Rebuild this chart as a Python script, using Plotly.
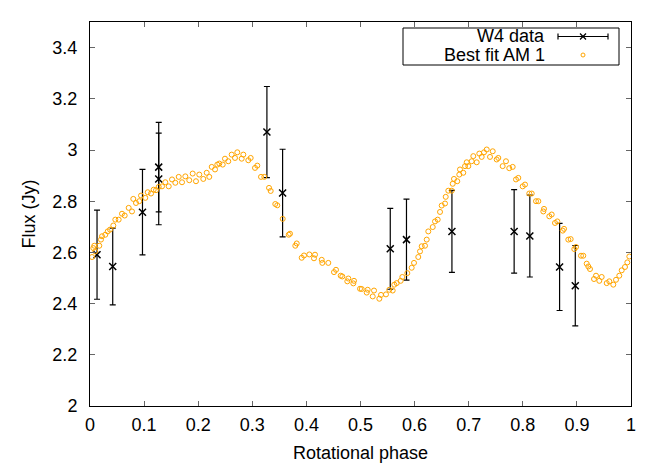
import plotly.graph_objects as go

# W4 observations
w4_phase = [0.013, 0.042, 0.097, 0.127, 0.127, 0.327, 0.356, 0.555, 0.585,
            0.669, 0.784, 0.813, 0.868, 0.897]
w4_flux = [2.591, 2.545, 2.757, 2.933, 2.887, 3.070, 2.832, 2.614, 2.650,
           2.682, 2.682, 2.664, 2.543, 2.470]
w4_err = [0.174, 0.150, 0.167, 0.175, 0.179, 0.178, 0.171, 0.158, 0.158,
          0.160, 0.163, 0.160, 0.170, 0.157]

# best-fit model (AM 1), sampled in phase
fit_phase = [
    0.0037, 0.0061, 0.0079, 0.0098, 0.0172, 0.0203, 0.0222, 0.0283, 0.0327, 0.0370,
    0.0431, 0.0468, 0.0530, 0.0591, 0.0641, 0.0715, 0.0776, 0.0800, 0.0850, 0.0911,
    0.0943, 0.1022, 0.1067, 0.1128, 0.1177, 0.1220, 0.1270, 0.1331, 0.1392, 0.1455,
    0.1516, 0.1577, 0.1640, 0.1701, 0.1762, 0.1835, 0.1898, 0.1959, 0.2020, 0.2094,
    0.2157, 0.2205, 0.2250, 0.2311, 0.2353, 0.2390, 0.2453, 0.2495, 0.2556, 0.2619,
    0.2680, 0.2723, 0.2804, 0.2834, 0.2926, 0.2970, 0.3050, 0.3092, 0.3161, 0.3222,
    0.3309, 0.3340, 0.3425, 0.3462, 0.3562, 0.3673, 0.3697, 0.3795, 0.3821, 0.3913,
    0.3956, 0.4054, 0.4159, 0.4140, 0.4283, 0.4294, 0.4405, 0.4510, 0.4547, 0.4634,
    0.4664, 0.4756, 0.4775, 0.4867, 0.4880, 0.4991, 0.5022, 0.5115, 0.5133, 0.5226,
    0.5250, 0.5348, 0.5379, 0.5471, 0.5532, 0.5595, 0.5625, 0.5669, 0.5743, 0.5773,
    0.5865, 0.5946, 0.5989, 0.6068, 0.6100, 0.6131, 0.6192, 0.6224, 0.6253, 0.6335,
    0.6377, 0.6427, 0.6470, 0.6501, 0.6562, 0.6575, 0.6623, 0.6686, 0.6704, 0.6728,
    0.6789, 0.6826, 0.6839, 0.6900, 0.6932, 0.6963, 0.6993, 0.7055, 0.7085, 0.7148,
    0.7196, 0.7240, 0.7283, 0.7333, 0.7394, 0.7444, 0.7517, 0.7547, 0.7628, 0.7689,
    0.7750, 0.7813, 0.7874, 0.7917, 0.7998, 0.8041, 0.8120, 0.8165, 0.8244, 0.8287,
    0.8379, 0.8392, 0.8490, 0.8534, 0.8595, 0.8638, 0.8738, 0.8762, 0.8841, 0.8885,
    0.8952, 0.8983, 0.9076, 0.9118, 0.9181, 0.9211, 0.9242, 0.9316, 0.9353, 0.9414,
    0.9458, 0.9551, 0.9599, 0.9673, 0.9723, 0.9784, 0.9828, 0.9889, 0.9932, 0.9969,
]
fit_flux = [
    2.582, 2.617, 2.626, 2.604, 2.626, 2.650, 2.663, 2.669, 2.682, 2.689,
    2.705, 2.728, 2.728, 2.751, 2.744, 2.774, 2.760, 2.809, 2.793, 2.800,
    2.822, 2.813, 2.835, 2.830, 2.845, 2.843, 2.856, 2.858, 2.874, 2.858,
    2.885, 2.872, 2.895, 2.874, 2.897, 2.882, 2.908, 2.878, 2.904, 2.887,
    2.911, 2.895, 2.934, 2.924, 2.943, 2.947, 2.943, 2.966, 2.956, 2.982,
    2.969, 2.991, 2.966, 2.982, 2.960, 2.969, 2.930, 2.939, 2.895, 2.895,
    2.852, 2.840, 2.789, 2.784, 2.731, 2.669, 2.673, 2.626, 2.635, 2.579,
    2.588, 2.592, 2.591, 2.577, 2.571, 2.559, 2.559, 2.523, 2.532, 2.509,
    2.506, 2.487, 2.498, 2.479, 2.489, 2.458, 2.457, 2.443, 2.454, 2.428,
    2.451, 2.419, 2.434, 2.436, 2.454, 2.451, 2.474, 2.480, 2.489, 2.504,
    2.519, 2.540, 2.559, 2.582, 2.604, 2.624, 2.626, 2.650, 2.682, 2.699,
    2.721, 2.728, 2.758, 2.783, 2.791, 2.817, 2.841, 2.841, 2.868, 2.887,
    2.878, 2.904, 2.924, 2.911, 2.937, 2.952, 2.937, 2.956, 2.976, 2.952,
    2.986, 2.973, 2.991, 3.002, 2.973, 2.995, 2.963, 2.969, 2.937, 2.956,
    2.929, 2.934, 2.885, 2.891, 2.858, 2.865, 2.830, 2.830, 2.800, 2.800,
    2.760, 2.770, 2.741, 2.748, 2.715, 2.721, 2.685, 2.692, 2.650, 2.652,
    2.613, 2.621, 2.587, 2.587, 2.556, 2.545, 2.535, 2.496, 2.509, 2.489,
    2.504, 2.480, 2.487, 2.474, 2.493, 2.509, 2.530, 2.543, 2.561, 2.584,
]

FONT = "Liberation Sans, Arial, sans-serif"
FSIZE = 18
ORANGE = "#ffa500"

fig = go.Figure()
fig.add_trace(go.Scatter(
    x=w4_phase, y=w4_flux, mode="markers", name="W4 data",
    marker=dict(symbol="x-thin", size=7, color="black",
                line=dict(width=1.5, color="black")),
    error_y=dict(type="data", array=w4_err, visible=True,
                 color="black", thickness=1.2, width=3),
))
fig.add_trace(go.Scatter(
    x=fit_phase, y=fit_flux, mode="markers", name="Best fit AM 1",
    marker=dict(symbol="circle-open", size=5, color=ORANGE,
                line=dict(width=1, color=ORANGE)),
))

axis_common = dict(
    showgrid=False, zeroline=False, showline=True, linecolor="black",
    linewidth=1, mirror="ticks", ticks="inside", ticklen=5,
    tickcolor="#666", tickwidth=1, automargin=False,
    tickfont=dict(family=FONT, size=FSIZE, color="black"),
)

# the page body adds an 8px offset, so the figure is 8px smaller
BODY = 8
PL, PT, PW, PH = 90, 22, 541, 384  # plot area on the page, px
FIG_W, FIG_H = 664 - BODY, 465 - BODY


def px(xp):
    return (xp - PL) / PW


def py(yp):
    return (PT + PH - yp) / PH


# hand-drawn key in the gnuplot style (text left, sample right)
key_shapes = [
    dict(type="rect", xref="paper", yref="paper", x0=px(403), x1=px(619),
         y0=py(65), y1=py(28), line=dict(color="black", width=1)),
    dict(type="line", xref="paper", yref="paper", x0=px(558), x1=px(608),
         y0=py(36.5), y1=py(36.5), line=dict(color="black", width=1.2)),
    dict(type="line", xref="paper", yref="paper", x0=px(558), x1=px(558),
         y0=py(33.5), y1=py(39.5), line=dict(color="black", width=1.2)),
    dict(type="line", xref="paper", yref="paper", x0=px(608), x1=px(608),
         y0=py(33.5), y1=py(39.5), line=dict(color="black", width=1.2)),
    dict(type="line", xref="paper", yref="paper", x0=px(580), x1=px(586),
         y0=py(33.5), y1=py(39.5), line=dict(color="black", width=1.3)),
    dict(type="line", xref="paper", yref="paper", x0=px(580), x1=px(586),
         y0=py(39.5), y1=py(33.5), line=dict(color="black", width=1.3)),
    dict(type="circle", xref="paper", yref="paper", x0=px(581), x1=px(585),
         y0=py(57), y1=py(53), line=dict(color=ORANGE, width=1)),
]
key_text = [
    dict(text="W4 data", x=px(547), y=py(36.5)),
    dict(text="Best fit AM 1", x=px(547), y=py(55)),
]

fig.update_layout(
    width=FIG_W, height=FIG_H,
    margin=dict(l=PL - BODY, r=FIG_W - (PL - BODY) - PW, t=PT - BODY,
                b=FIG_H - (PT - BODY) - PH),
    paper_bgcolor="white", plot_bgcolor="white",
    showlegend=False,
    font=dict(family=FONT, size=FSIZE, color="black"),
    xaxis=dict(range=[0, 1], dtick=0.1, tick0=0, ticklabelstandoff=2,
               title=dict(text="Rotational phase", standoff=12,
                          font=dict(family=FONT, size=FSIZE)),
               **axis_common),
    yaxis=dict(range=[2, 3.5], dtick=0.2, tick0=2, ticklabelstandoff=8,
               title=dict(text="Flux (Jy)", standoff=12,
                          font=dict(family=FONT, size=FSIZE)),
               **axis_common),
    shapes=key_shapes,
    annotations=[dict(xref="paper", yref="paper", xanchor="right",
                      yanchor="middle", showarrow=False,
                      font=dict(family=FONT, size=FSIZE, color="black"), **a)
                 for a in key_text],
)

fig.write_html("out.html")
